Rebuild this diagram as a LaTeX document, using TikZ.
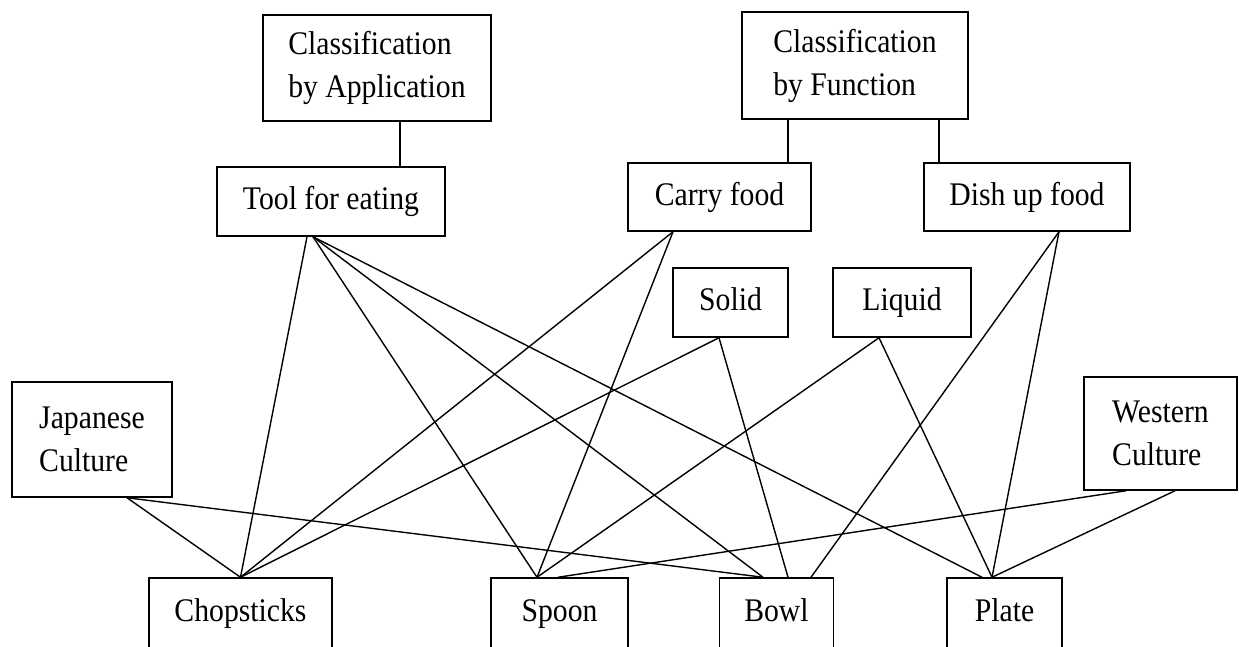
\documentclass[tikz,border=0pt]{standalone}
\usepackage{fontspec}
\setmainfont[FakeStretch=0.9]{Liberation Serif}
\begin{document}
\begin{tikzpicture}[x=1pt,y=-1pt,
  boxbase/.style={draw, line width=1.5pt, rectangle, inner sep=0pt, align=left,
    font=\fontsize{33}{43}\selectfont},
  box/.style={boxbase, text height=24.75pt, text depth=8.25pt},
  box2/.style={boxbase},
  conn/.style={line width=1.4pt}]
\useasboundingbox (0,0) rectangle (1239,646);
\clip (0,0) rectangle (1239,646);
% top level
\node[box2, minimum width=228pt, minimum height=106pt] (capp) at (377,68) {Classification\\by Application};
\node[box2, minimum width=226pt, minimum height=107pt] (cfun) at (855,65.5) {Classification\\by Function};
% second level
\node[box, minimum width=228pt, minimum height=69pt] (tool) at (331,201.5) {Tool for eating};
\node[box, minimum width=183pt, minimum height=68pt] (carry) at (719.5,197) {Carry food};
\node[box, minimum width=206pt, minimum height=68pt] (dish) at (1027,197) {Dish up food};
\node[box, minimum width=115pt, minimum height=69pt] (solid) at (730.5,302.5) {Solid};
\node[box, minimum width=138pt, minimum height=69pt] (liquid) at (902,302.5) {Liquid};
\node[box2, minimum width=160pt, minimum height=115pt] (jc) at (92,439.5) {Japanese\\Culture};
\node[box2, minimum width=153pt, minimum height=113pt] (wc) at (1160.5,433.5) {Western\\Culture};
% bottom
\node[box, minimum width=183pt, minimum height=71pt] (chop) at (240.5,613.5) {Chopsticks};
\node[box, minimum width=137pt, minimum height=71pt] (spoon) at (559.5,613.5) {Spoon};
\node[box, minimum width=114pt, minimum height=71pt] (bowl) at (776.5,613.5) {Bowl};
\node[box, minimum width=115pt, minimum height=71pt] (plate) at (1004.5,613.5) {Plate};
% hierarchy connectors
\draw[conn] ([xshift=23pt]capp.south) -- ([xshift=23pt]capp.south |- tool.north);
\draw[conn] ([xshift=-67pt]cfun.south) -- ([xshift=-67pt]cfun.south |- carry.north);
\draw[conn] ([xshift=84pt]cfun.south) -- ([xshift=84pt]cfun.south |- dish.north);
% tool for eating
\draw[conn] ([xshift=-24pt]tool.south) -- (chop.north);
\draw[conn] ([xshift=-18pt]tool.south) -- ([xshift=-22.5pt]spoon.north);
\draw[conn] ([xshift=-18pt]tool.south) -- ([xshift=-13.5pt]bowl.north);
\draw[conn] ([xshift=-18pt]tool.south) -- ([xshift=-22.5pt]plate.north);
% carry food
\draw[conn] ([xshift=-46.5pt]carry.south) -- (chop.north);
\draw[conn] ([xshift=-46.5pt]carry.south) -- ([xshift=-22.5pt]spoon.north);
% solid
\draw[conn] ([xshift=-11.5pt]solid.south) -- (chop.north);
\draw[conn] ([xshift=-11.5pt]solid.south) -- ([xshift=11.5pt]bowl.north);
% liquid
\draw[conn] ([xshift=-23pt]liquid.south) -- ([xshift=-22.5pt]spoon.north);
\draw[conn] ([xshift=-23pt]liquid.south) -- ([xshift=-12.5pt]plate.north);
% dish up food
\draw[conn] ([xshift=32pt]dish.south) -- ([xshift=34.5pt]bowl.north);
\draw[conn] ([xshift=32pt]dish.south) -- ([xshift=-12.5pt]plate.north);
% japanese culture
\draw[conn] ([xshift=35pt]jc.south) -- (chop.north);
\draw[conn] ([xshift=35pt]jc.south) -- ([xshift=-13.5pt]bowl.north);
% western culture
\draw[conn] ([xshift=-34.5pt]wc.south) -- ([xshift=-1.5pt]spoon.north);
\draw[conn] ([xshift=14.5pt]wc.south) -- ([xshift=-12.5pt]plate.north);
\end{tikzpicture}
\end{document}
